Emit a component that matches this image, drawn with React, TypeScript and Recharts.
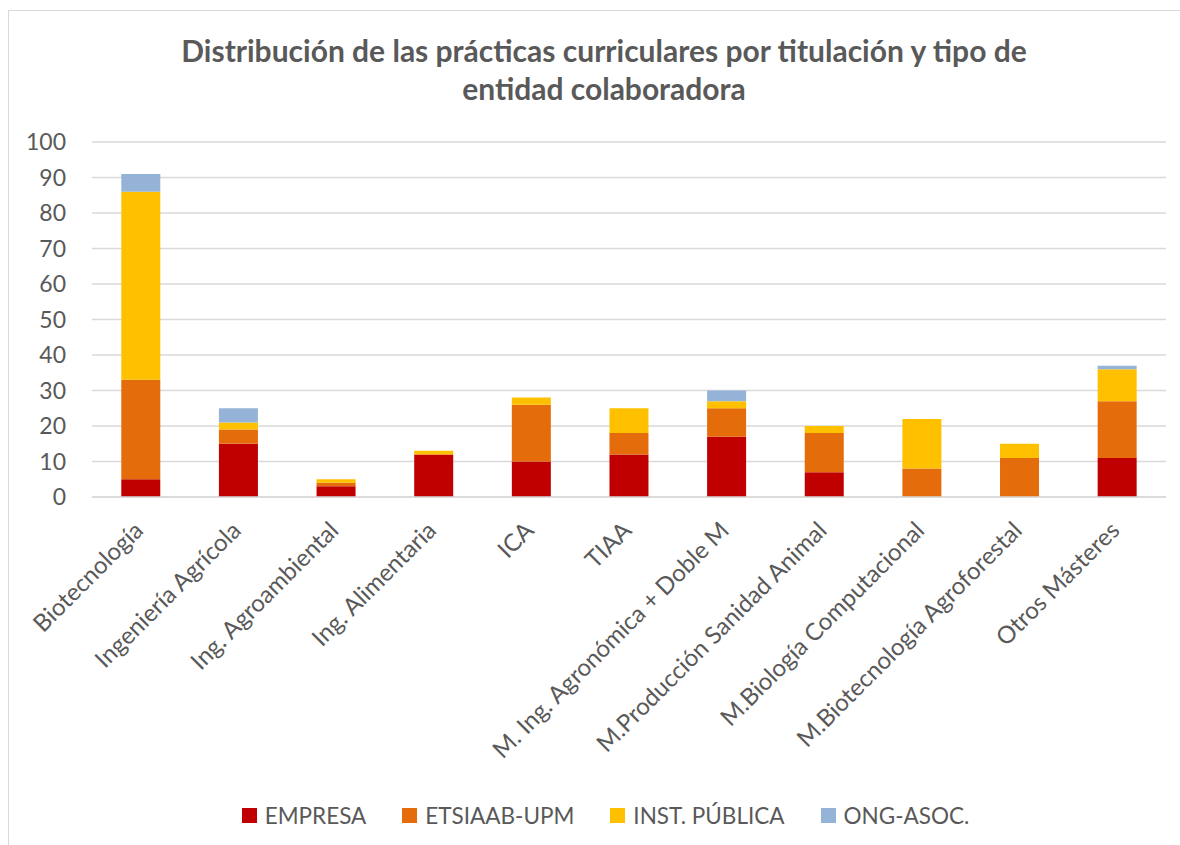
import { BarChart, Bar, XAxis, YAxis, CartesianGrid, Legend } from "recharts";

const categories = [
  "Biotecnología",
  "Ingeniería Agrícola",
  "Ing. Agroambiental",
  "Ing. Alimentaria",
  "ICA",
  "TIAA",
  "M. Ing. Agronómica + Doble M",
  "M.Producción Sanidad Animal",
  "M.Biología Computacional",
  "M.Biotecnología Agroforestal",
  "Otros Másteres",
];

const empresa = [5, 15, 3, 12, 10, 12, 17, 7, 0, 0, 11];
const etsiaab = [28, 4, 1, 0, 16, 6, 8, 11, 8, 11, 16];
const instPublica = [53, 2, 1, 1, 2, 7, 2, 2, 14, 4, 9];
const ongAsoc = [5, 4, 0, 0, 0, 0, 3, 0, 0, 0, 1];

const yTicks = [0, 10, 20, 30, 40, 50, 60, 70, 80, 90, 100];

const SERIES = [
  { key: "empresa", name: "EMPRESA", color: "#C00000" },
  { key: "etsiaab", name: "ETSIAAB-UPM", color: "#E46C0A" },
  { key: "inst", name: "INST. PÚBLICA", color: "#FFC000" },
  { key: "ong", name: "ONG-ASOC.", color: "#95B3D7" },
];

const data = categories.map((name, i) => ({
  name,
  empresa: empresa[i],
  etsiaab: etsiaab[i],
  inst: instPublica[i],
  ong: ongAsoc[i],
}));

const FONT = "Lato, 'Open Sans', sans-serif";
const TEXT = "#595959";

const CategoryTick = ({ x, y, payload }: { x?: number; y?: number; payload?: { value: string } }) => (
  <g transform={`translate(${(x ?? 0) - 2}, ${(y ?? 0) + 21}) rotate(-45)`}>
    <text
      textAnchor="end"
      dy="0.35em"
      fill={TEXT}
      fontSize={24}
      fontFamily={FONT}
    >
      {payload?.value}
    </text>
  </g>
);

const LegendContent = () => (
  <div
    style={{
      display: "flex",
      justifyContent: "center",
      alignItems: "center",
      gap: 36,
      height: 24,
      marginLeft: 36,
      fontFamily: FONT,
      fontSize: 22.5,
      color: TEXT,
    }}
  >
    {SERIES.map((s) => (
      <div key={s.key} style={{ display: "flex", alignItems: "center" }}>
        <span style={{ width: 15, height: 15, background: s.color, marginRight: 8, display: "inline-block" }} />
        <span>{s.name}</span>
      </div>
    ))}
  </div>
);

export default function App() {
  return (
    <div
      style={{
        position: "absolute",
        left: 0,
        top: 0,
        width: 1180,
        height: 845,
        overflow: "hidden",
        background: "#fff",
      }}
    >
      {/* chart frame: only the top and left edges show in the crop */}
      <div style={{ position: "absolute", left: 8, top: 10, width: 1172, height: 1, background: "#d9d9d9" }} />
      <div style={{ position: "absolute", left: 8, top: 10, width: 1, height: 835, background: "#d9d9d9" }} />
      <div
        style={{
          position: "absolute",
          top: 31,
          left: 9,
          width: 1190,
          textAlign: "center",
          fontFamily: FONT,
          fontWeight: 700,
          fontSize: 30,
          lineHeight: "38px",
          color: TEXT,
        }}
      >
        Distribución de las prácticas curriculares por titulación y tipo de
        <br />
        entidad colaboradora
      </div>
      <div style={{ position: "absolute", left: 9, top: 11 }}>
        <BarChart
          width={1190}
          height={834}
          data={data}
          margin={{ top: 131, right: 33, left: 0, bottom: 18 }}
          barCategoryGap="30%"
        >
          <CartesianGrid vertical={false} stroke="#d9d9d9" strokeWidth={1.5} />
          <XAxis
            dataKey="name"
            interval={0}
            tickLine={false}
            axisLine={{ stroke: "#d9d9d9", strokeWidth: 1.5 }}
            height={306}
            tick={<CategoryTick />}
          />
          <YAxis
            width={83}
            domain={[0, 100]}
            ticks={yTicks}
            axisLine={false}
            tickLine={false}
            tickMargin={20}
            tick={{ fill: TEXT, fontSize: 23, fontFamily: FONT }}
          />
          <Legend verticalAlign="bottom" content={<LegendContent />} />
          {SERIES.map((s) => (
            <Bar
              key={s.key}
              dataKey={s.key}
              name={s.name}
              stackId="a"
              fill={s.color}
              isAnimationActive={false}
            />
          ))}
        </BarChart>
      </div>
    </div>
  );
}
